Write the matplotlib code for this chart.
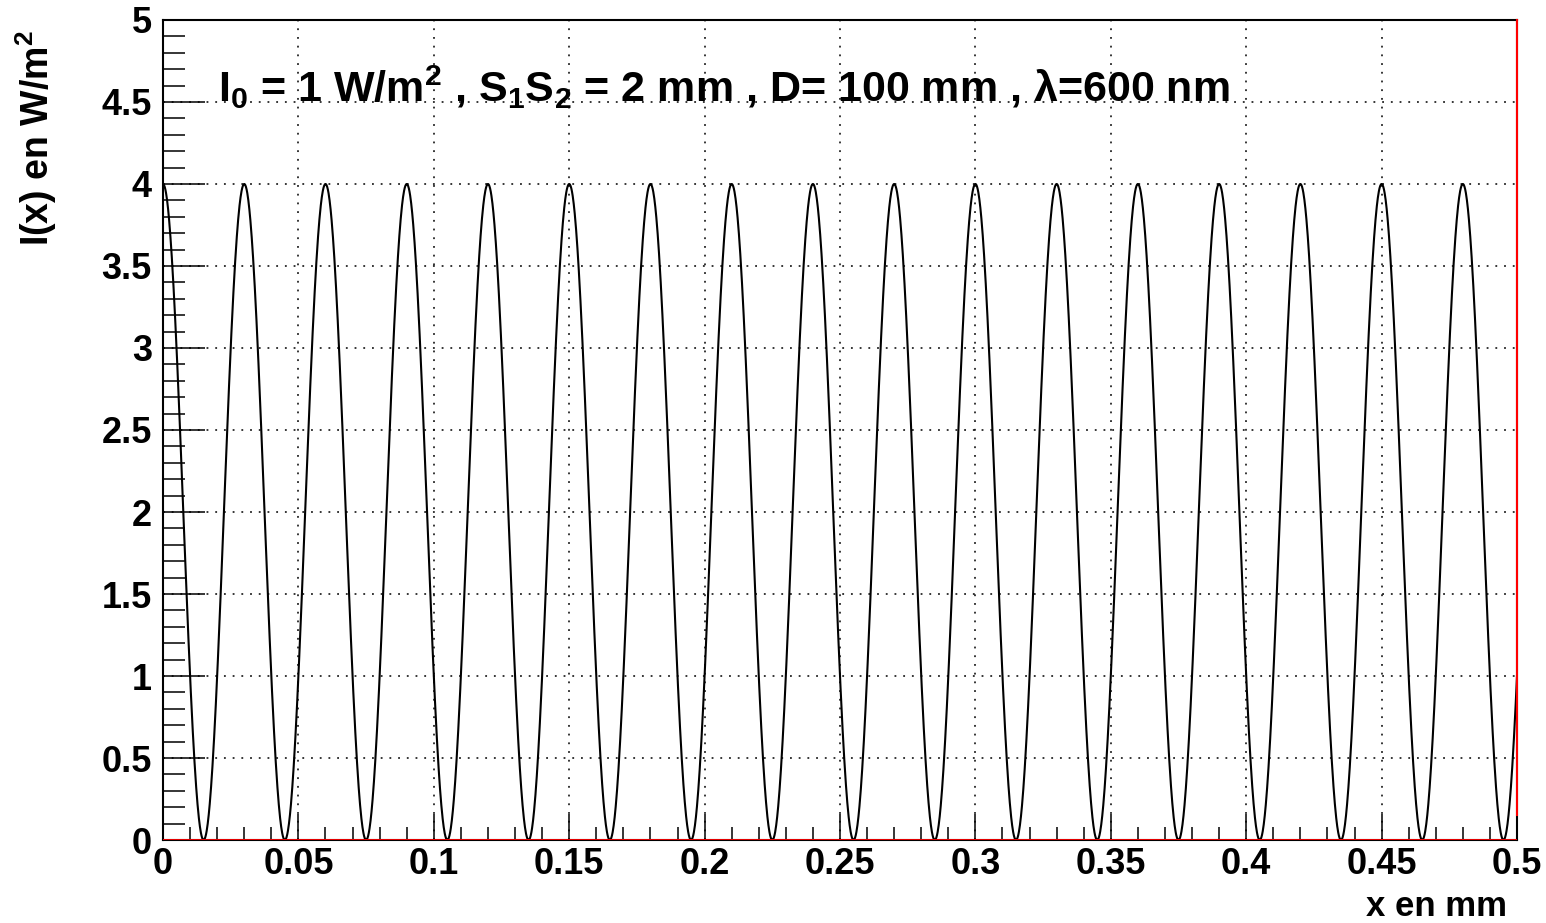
import numpy as np
import matplotlib.pyplot as plt
from matplotlib.ticker import MultipleLocator, FuncFormatter

plt.rcParams['font.family'] = ['Liberation Sans', 'DejaVu Sans']
plt.rcParams['font.weight'] = 'bold'
plt.rcParams['mathtext.fontset'] = 'custom'
plt.rcParams['mathtext.rm'] = 'Liberation Sans:bold'
plt.rcParams['mathtext.it'] = 'Liberation Sans:bold'
plt.rcParams['mathtext.bf'] = 'Liberation Sans:bold'

# parameters written on the chart
I0 = 1.0          # W/m^2
a = 2.0           # S1S2 in mm
D = 100.0         # mm
lam = 600e-6      # mm (600 nm)
x_range = (0.0, 0.5)

x = np.linspace(x_range[0], x_range[1], 4000)
I = 4 * I0 * np.cos(np.pi * a * x / (lam * D)) ** 2

fig = plt.figure(figsize=(15.46, 9.23), dpi=100)
ax = fig.add_axes([163 / 1546, 83 / 923, 1354 / 1546, 820 / 923])

ax.plot(x, I, color='black', lw=1.5, zorder=3)
ax.axhline(0, color='red', lw=2.0, zorder=4)
ax.plot([0.5, 0.5], [0.15, 5], color='red', lw=1.5, zorder=4, clip_on=False)

ax.set_xlim(0, 0.5)
ax.set_ylim(0, 5)
ax.xaxis.set_major_locator(MultipleLocator(0.05))
ax.xaxis.set_minor_locator(MultipleLocator(0.01))
ax.yaxis.set_major_locator(MultipleLocator(0.5))
ax.yaxis.set_minor_locator(MultipleLocator(0.1))

fmt = FuncFormatter(lambda v, p: ('%g' % round(v, 3)))
ax.xaxis.set_major_formatter(fmt)
ax.yaxis.set_major_formatter(fmt)

ax.tick_params(axis='x', which='major', direction='in', length=19, width=1.1,
               labelsize=26, pad=5)
ax.tick_params(axis='x', which='minor', direction='in', length=9.5, width=1.1)
ax.tick_params(axis='y', which='major', direction='in', length=30, width=1.1,
               labelsize=26, pad=8)
ax.tick_params(axis='y', which='minor', direction='in', length=16, width=1.1)
ax.tick_params(top=False, right=False, which='both')

ax.grid(True, which='major', color='black', linestyle=(0, (1.2, 4.5)), lw=1.1)
for s in ax.spines.values():
    s.set_linewidth(1.5)

fig.text(218 / 1546, 1 - 102 / 923,
         r"I$_0$ = 1 W/m$^2$ , S$_1$S$_2$ = 2 mm , D= 100 mm , $\lambda$=600 nm",
         fontsize=31, fontweight='bold', va='baseline', ha='left')
fig.text(1507 / 1546, 1 - 907 / 923, "x en mm", fontsize=25, fontweight='bold',
         ha='right', va='center')
fig.text(36 / 1546, 1 - 30 / 923, r"I(x) en W/m$^2$", fontsize=27,
         fontweight='bold', rotation=90, ha='center', va='top')

fig.savefig('out.png', dpi=100)
